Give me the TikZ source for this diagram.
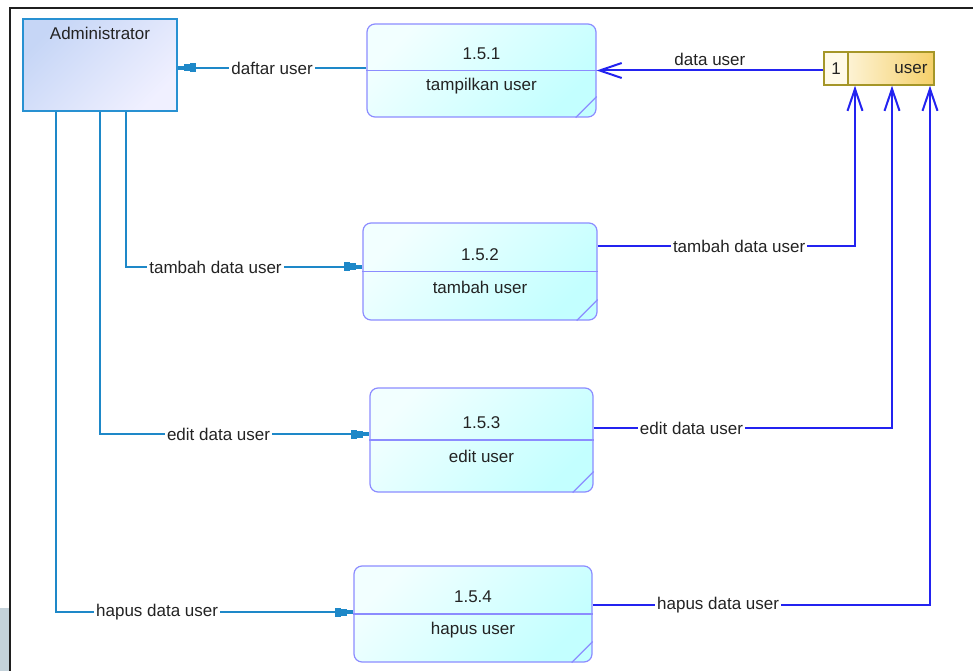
\documentclass[tikz,border=0pt]{standalone}
\usepackage{fontspec}
\setmainfont{Liberation Sans}
\usetikzlibrary{arrows.meta}

\definecolor{flowadm}{RGB}{30,136,200}
\definecolor{flowstore}{RGB}{35,35,240}
\definecolor{procline}{RGB}{140,140,255}
\definecolor{procdark}{RGB}{195,255,255}
\definecolor{proclight}{RGB}{242,255,255}
\definecolor{admline}{RGB}{40,145,210}
\definecolor{admdark}{RGB}{198,214,246}
\definecolor{admlight}{RGB}{240,240,255}
\definecolor{storeline}{RGB}{165,150,40}
\definecolor{storegold}{RGB}{245,208,105}
\definecolor{storecream}{RGB}{255,250,232}
\definecolor{txt}{RGB}{35,35,35}
\definecolor{shot}{RGB}{196,210,218}

\tikzset{
  dfdtip/.tip={Rectangle[length=6pt,width=9pt]Rectangle[length=6pt,width=7pt]Rectangle[length=6pt,width=4pt]},
  barbtip/.tip={Straight Barb[length=22pt,width=15pt]},
  ptext/.style={text=txt, font=\fontsize{17pt}{19pt}\selectfont, inner sep=1pt},
  lbl/.style={ptext, fill=white, inner sep=2pt},
  proc/.style={draw=procline, line width=1.2pt, rounded corners=8pt,
    top color=proclight, bottom color=procdark, shading angle=45},
  actor/.style={draw=admline, line width=1.5pt,
    top color=admdark, bottom color=admlight, shading angle=45},
  store/.style={draw=storeline, line width=1.5pt,
    left color=storecream!60!white, right color=storegold},
  admflow/.style={flowadm, line width=2pt, -dfdtip},
  storeflow/.style={flowstore, line width=2pt, -barbtip},
}

\begin{document}
\begin{tikzpicture}[x=1pt, y=-1pt]
    \useasboundingbox (0,0) rectangle (975,671);

    % window frame
    \fill[shot] (0,608) rectangle (9,671);
    \draw[line width=2pt, black!88] (10,671) -- (10,8) -- (973,8);

    % external entity and data store
    \node[actor, minimum width=154pt, minimum height=92pt] (admin) at (100,65) {};
    \node[ptext, anchor=north] (admtitle) at ([yshift=-8pt]admin.north) {Administrator};

    \node[store, minimum width=110pt, minimum height=33pt] (store) at (879,68.5) {};
    \node[draw=storeline, line width=1.5pt, fill=storecream, minimum width=24pt,
      minimum height=33pt, anchor=west, text=txt, font=\fontsize{17pt}{19pt}\selectfont] (storeid) at (store.west) {1};
    \node[ptext] (storename) at (911,69) {user};

    % processes
    \foreach \n/\cx/\cy/\w/\h/\num/\name in {
      1/481.5/70.5/229/93/1.5.1/tampilkan user,
      2/480/271.5/234/97/1.5.2/tambah user,
      3/481.5/440/223/104/1.5.3/edit user,
      4/473/614/238/96/1.5.4/hapus user}
    {
      \node[proc, minimum width=\w pt, minimum height=\h pt] (p\n) at (\cx,\cy) {};
      \draw[procline, line width=1.2pt] (p\n.west) -- (p\n.east);
      \draw[procline, line width=1.2pt] ([xshift=-21pt]p\n.south east) -- ([yshift=21pt]p\n.south east);
      \node[ptext] (num\n) at ([yshift=17pt]p\n.center) {\num};
      \node[ptext] (name\n) at ([yshift=-16pt]p\n.center) {\name};
    }

    % flows to and from Administrator
    \draw[admflow] ([yshift=2.5pt]p1.west) -- ([yshift=2.5pt]p1.west -| admin.east)
      node[lbl, pos=0.5] (f1) {daftar user};
    \draw[admflow] ([xshift=25.5pt]admin.south) |- ([yshift=4.5pt]p2.west)
      node[lbl, pos=0.69] (f2) {tambah data user};
    \draw[admflow] (admin.south) |- ([yshift=6pt]p3.west)
      node[lbl, pos=0.72] (f3) {edit data user};
    \draw[admflow] ([xshift=-44pt]admin.south) |- ([yshift=2pt]p4.west)
      node[lbl, pos=0.67] (f4) {hapus data user};

    % flows to and from the store
    \draw[storeflow] (p1.east -| store.west) -- (p1.east)
      node[ptext, above=3pt, pos=0.5] (g1) {data user};
    \draw[storeflow] ([yshift=25.5pt]p2.east) -| ([xshift=-24pt]store.south)
      node[lbl, pos=0.275] (g2) {tambah data user};
    \draw[storeflow] ([yshift=12pt]p3.east) -| ([xshift=13pt]store.south)
      node[lbl, pos=0.164] (g3) {edit data user};
    \draw[storeflow] ([yshift=9pt]p4.east) -| ([xshift=51pt]store.south)
      node[lbl, pos=0.186] (g4) {hapus data user};

\end{tikzpicture}
\end{document}
